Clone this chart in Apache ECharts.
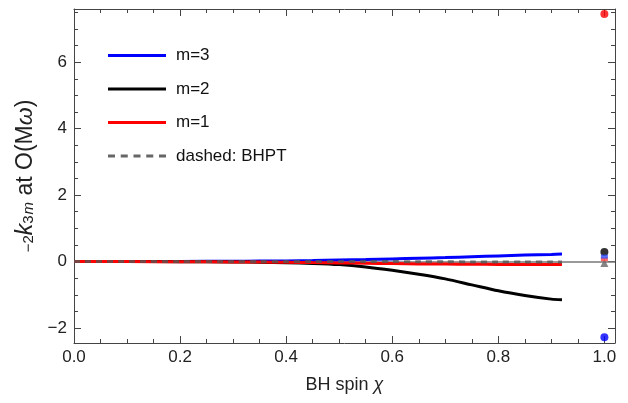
<!DOCTYPE html>
<html><head><meta charset="utf-8">
<script src="https://cdn.jsdelivr.net/npm/echarts@6/dist/echarts.min.js"></script>
<style>html,body{margin:0;padding:0;background:#fff}#c{width:628px;height:403px}</style>
</head><body><div id="c"></div>
<script>
// ---- data ----
const spin = [0, 0.1, 0.2, 0.3, 0.35, 0.4, 0.45, 0.5, 0.55, 0.6, 0.65, 0.7, 0.75, 0.8, 0.85, 0.9, 0.92];
const m3 = [0, 0, 0.003, 0.01, 0.015, 0.02, 0.03, 0.045, 0.06, 0.08, 0.1, 0.12, 0.145, 0.17, 0.195, 0.215, 0.225];
const m2 = [0, 0, -0.002, -0.01, -0.02, -0.035, -0.055, -0.09, -0.16, -0.26, -0.38, -0.52, -0.7, -0.88, -1.02, -1.13, -1.15];
const m1 = [0, 0, -0.005, -0.01, -0.015, -0.02, -0.03, -0.04, -0.05, -0.06, -0.07, -0.075, -0.08, -0.085, -0.09, -0.09, -0.09];
const bhpt = [0, 0, 0, 0, 0, 0, 0, 0, 0, 0, -0.005, -0.005, -0.01, -0.01, -0.01, -0.01, -0.01];
const extremalX = 1.0;
const extRedCircles = [7.45];
const extBlackCircles = [0.29];
const extBlueCircles = [-2.28];
const extBlueBars = [0.15];
const extRedBars = [0.07];
const extGrayTriangles = [-0.04];
const xMajor = [0, 0.2, 0.4, 0.6, 0.8, 1.0];
const xMinor = [0.05,0.1,0.15,0.25,0.3,0.35,0.45,0.5,0.55,0.65,0.7,0.75,0.85,0.9,0.95];
const yMajor = [-2, 0, 2, 4, 6];
const yMinor = [-1.5,-1,-0.5,0.5,1,1.5,2.5,3,3.5,4.5,5,5.5,6.5,7,7.5];
const xRange = [0, 1.02];
const yRange = [-2.45, 7.6];
const legendNames = ['m=3', 'm=2', 'm=1', 'dashed: BHPT'];

const pair = (xs, ys) => xs.map((x, i) => [x, ys[i]]);
const atX = (ys) => ys.map(y => [extremalX, y]);

const FONT = 'Liberation Sans';
const frameColor = '#444';
function xAx(pos, ticks, len, labels, gridIndex, line) {
  return {type:'value', gridIndex, position:pos, min:xRange[0], max:xRange[1],
    axisLine:{show:line, onZero:false, lineStyle:{color:frameColor, width:1}},
    axisTick:{show:true, inside:true, length:len, customValues:ticks, lineStyle:{color:frameColor}},
    axisLabel:{show:labels, customValues:ticks, formatter:v=>v.toFixed(1), color:'#222', fontFamily:FONT, fontSize:17, margin:6},
    splitLine:{show:false}};
}
function yAx(pos, ticks, len, labels, gridIndex, line) {
  return {type:'value', gridIndex, position:pos, min:yRange[0], max:yRange[1],
    axisLine:{show:line, onZero:false, lineStyle:{color:frameColor, width:1}},
    axisTick:{show:true, inside:true, length:len, customValues:ticks, lineStyle:{color:frameColor}},
    axisLabel:{show:labels, customValues:ticks, formatter:v=>(v<0?'\u2212'+Math.abs(v):String(v)), color:'#222', fontFamily:FONT, fontSize:17, margin:7},
    splitLine:{show:false}};
}
const gridRect = {left:74, right:13, top:9, bottom:60};
const xAxes = [xAx('bottom', xMajor, 7, true, 0, true), xAx('top', xMajor, 7, false, 0, true),
               xAx('bottom', xMinor, 4, false, 1, false), xAx('top', xMinor, 4, false, 1, false)];
xAxes[0].name = '{n|BH spin }{it|\u03c7}';
xAxes[0].nameLocation = 'middle';
xAxes[0].nameGap = 33;
xAxes[0].nameTextStyle = {rich:{n:{fontFamily:FONT, fontSize:18, color:'#222'}, it:{fontFamily:FONT, fontSize:18, fontStyle:'italic', color:'#222'}}};
const yAxes = [yAx('left', yMajor, 7, true, 0, true), yAx('right', yMajor, 7, false, 0, true),
               yAx('left', yMinor, 4, false, 1, false), yAx('right', yMinor, 4, false, 1, false)];
yAxes[0].name = '{sub|\u22122}{it|k}{sub|3}{subit|m}{n| at O(M}{it|\u03c9}{n|)}';
yAxes[0].nameLocation = 'middle';
yAxes[0].nameGap = 25;
yAxes[0].nameTextStyle = {rich:{
  n:{fontFamily:FONT, fontSize:23, color:'#222', lineHeight:28, verticalAlign:'bottom'},
  it:{fontFamily:FONT, fontSize:23, fontStyle:'italic', color:'#222', lineHeight:28, verticalAlign:'bottom'},
  sub:{fontFamily:FONT, fontSize:15, color:'#222', lineHeight:15, padding:[11,0,0,0], verticalAlign:'bottom'},
  subit:{fontFamily:FONT, fontSize:15, fontStyle:'italic', color:'#222', lineHeight:15, padding:[11,0,0,1], verticalAlign:'bottom'}
}};

function lineSeries(name, ys, color, dashed) {
  return {name, type:'line', xAxisIndex:0, yAxisIndex:0, data:pair(spin, ys), smooth:0.3,
    showSymbol:false, symbol:'none', color,
    lineStyle:{color, width:3, type: dashed ? [6,5] : 'solid'}, z: dashed ? 5 : 3};
}
function scat(ys, color, symbol, size) {
  return {type:'scatter', xAxisIndex:0, yAxisIndex:0, data:atX(ys), symbol, symbolSize:size,
    itemStyle:{color}, z:6};
}

const series = [
  lineSeries(legendNames[0], m3, '#0000ff', false),
  lineSeries(legendNames[1], m2, '#000000', false),
  lineSeries(legendNames[2], m1, '#ff0000', false),
  lineSeries(legendNames[3], bhpt, 'rgba(85,85,85,0.8)', true),
  scat(extRedCircles, '#ff0000', 'circle', 8),
  scat(extBlackCircles, '#000000', 'circle', 8),
  scat(extGrayTriangles, '#666666', 'triangle', 8),
  scat(extRedBars, '#ff4040', 'rect', [7,4]),
  scat(extBlueBars, '#3050ff', 'rect', [7,4]),
  scat(extBlueCircles, '#0000ff', 'circle', 8)
];
series[0].markLine = {silent:true, symbol:'none', label:{show:false}, lineStyle:{color:'#777', width:1.5, type:'solid'}, data:[{yAxis:0}], z:1};

const dashIcon = 'path://M0,0h7v3h-7z M12.75,0h7v3h-7z M25.5,0h7v3h-7z M38.25,0h7v3h-7z M51,0h7v3h-7z';
const chart = echarts.init(document.getElementById('c'), null, {renderer:'canvas'});
chart.setOption({
  animation:false,
  backgroundColor:'#fff',
  grid:[Object.assign({}, gridRect), Object.assign({}, gridRect)],
  xAxis:xAxes,
  yAxis:yAxes,
  legend:{data:[
      {name:legendNames[0], icon:'rect'},
      {name:legendNames[1], icon:'rect'},
      {name:legendNames[2], icon:'rect'},
      {name:legendNames[3], icon:dashIcon, itemStyle:{color:'#666'}}],
    orient:'vertical', left:108, top:47, padding:0,
    itemWidth:58, itemHeight:3, itemGap:16.5,
    textStyle:{fontFamily:FONT, fontSize:17, color:'#111', padding:[0,0,0,5]}},
  series
});
</script></body></html>
